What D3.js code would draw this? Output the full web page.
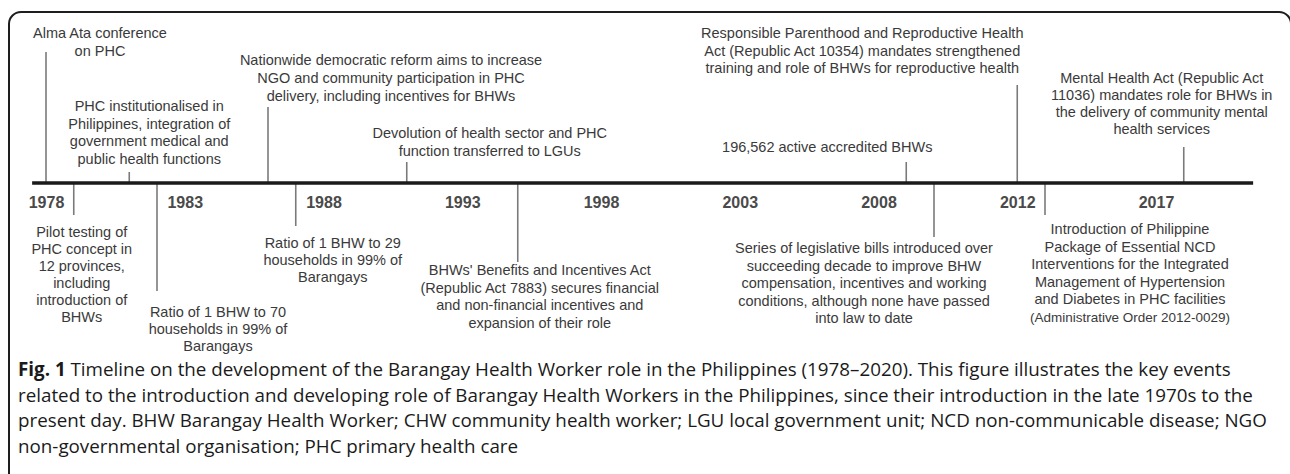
<!DOCTYPE html>
<html>
<head>
<meta charset="utf-8">
<script src="https://cdn.jsdelivr.net/npm/d3@7"></script>
<style>
  html, body { margin: 0; padding: 0; background: #fff; }
  svg { display: block; }
</style>
</head>
<body>
<svg id="chart" width="1290" height="474"></svg>
<script>
// tick labels on the timeline (evenly spaced slots)
const tickYears = [1978, 1983, 1988, 1993, 1998, 2003, 2008, 2012, 2017];
const tickLabels = ["1978", "1983", "1988", "1993", "1998", "2003", "2008", "2012", "2017"];
const axisExtent = [1977.5, 2020.5];

// events
const eventYears = [1978, 1979, 1981, 1982, 1986, 1987, 1991, 1995, 2008.8, 2009.6, 2012, 2013, 2018];
const eventSides = ["above", "below", "above", "below", "above", "below", "above", "below",
                    "above", "below", "above", "below", "above"];
const eventTexts = [
  ["Alma Ata conference", "on PHC"],
  ["Pilot testing of", "PHC concept in", "12 provinces,", "including", "introduction of", "BHWs"],
  ["PHC institutionalised in", "Philippines, integration of", "government medical and", "public health functions"],
  ["Ratio of 1 BHW to 70", "households in 99% of", "Barangays"],
  ["Nationwide democratic reform aims to increase", "NGO and community participation in PHC", "delivery, including incentives for BHWs"],
  ["Ratio of 1 BHW to 29", "households in 99% of", "Barangays"],
  ["Devolution of health sector and PHC", "function transferred to LGUs"],
  ["BHWs' Benefits and Incentives Act", "(Republic Act 7883) secures financial", "and non-financial incentives and", "expansion of their role"],
  ["196,562 active accredited BHWs"],
  ["Series of legislative bills introduced over", "succeeding decade to improve BHW", "compensation, incentives and working", "conditions, although none have passed", "into law to date"],
  ["Responsible Parenthood and Reproductive Health", "Act (Republic Act 10354) mandates strengthened", "training and role of BHWs for reproductive health"],
  ["Introduction of Philippine", "Package of Essential NCD", "Interventions for the Integrated", "Management of Hypertension", "and Diabetes in PHC facilities", "(Administrative Order 2012-0029)"],
  ["Mental Health Act (Republic Act", "11036) mandates role for BHWs in", "the delivery of community mental", "health services"]
];

// caption
const captionLead = "Fig. 1";
const captionLines = [
  " Timeline on the development of the Barangay Health Worker role in the Philippines (1978\u20132020). This figure illustrates the key events",
  "related to the introduction and developing role of Barangay Health Workers in the Philippines, since their introduction in the late 1970s to the",
  "present day. BHW Barangay Health Worker; CHW community health worker; LGU local government unit; NCD non-communicable disease; NGO",
  "non-governmental organisation; PHC primary health care"
];

// label placement: stem end y, label x offset from stem, first baseline, line step
const labelLayout = [
  {stem: 52,  dx: 54,   y0: 38,  lh: 18},
  {stem: 215, dx: 8,    y0: 237, lh: 17},
  {stem: 172, dx: 20,   y0: 111, lh: 17.5},
  {stem: 291, dx: 61,   y0: 317, lh: 17},
  {stem: 107, dx: 123,  y0: 65,  lh: 18},
  {stem: 226, dx: 37,   y0: 248, lh: 17},
  {stem: 162, dx: 83,   y0: 138, lh: 18},
  {stem: 262, dx: 22,   y0: 275, lh: 17.5},
  {stem: 162, dx: -79,  y0: 152, lh: 18},
  {stem: 237, dx: -70,  y0: 253, lh: 17.5},
  {stem: 85,  dx: -155, y0: 38,  lh: 17.5},
  {stem: 215, dx: 85,   y0: 234, lh: 17.6, narrowLast: 200},
  {stem: 147, dx: -22,  y0: 83,  lh: 17}
];

const svg = d3.select("#chart");
const width = +svg.attr("width");
const height = +svg.attr("height");
const axisY = 183;
const slotLeft = 46, slotRight = 1156;

// piecewise scale: tick labels sit in evenly spaced slots
const x = d3.scaleLinear()
  .domain(tickYears)
  .range(tickYears.map((d, i) => slotLeft + i * (slotRight - slotLeft) / (tickYears.length - 1)));

svg.append("rect")
  .attr("width", width).attr("height", height).attr("fill", "#fff");

// frame
svg.append("rect")
  .attr("x", 9).attr("y", 12)
  .attr("width", 1282).attr("height", 520)
  .attr("rx", 12)
  .attr("fill", "none")
  .attr("stroke", "#1e1e1e")
  .attr("stroke-width", 2);

const events = eventYears.map((year, i) => ({
  year, side: eventSides[i], lines: eventTexts[i], lay: labelLayout[i]
}));

// stems
svg.selectAll(".stem")
  .data(events)
  .join("line")
  .attr("class", "stem")
  .attr("x1", d => x(d.year)).attr("x2", d => x(d.year))
  .attr("y1", axisY)
  .attr("y2", d => d.lay.stem)
  .attr("stroke", "#7a7a7a")
  .attr("stroke-width", 1.6);

// main timeline line
svg.append("line")
  .attr("x1", x(axisExtent[0])).attr("x2", x(axisExtent[1]))
  .attr("y1", axisY).attr("y2", axisY)
  .attr("stroke", "#1a1a1a")
  .attr("stroke-width", 3.5);

// year labels
const axis = svg.append("g")
  .attr("transform", `translate(0,${axisY})`)
  .call(d3.axisBottom(x)
    .tickValues(tickYears)
    .tickSize(0)
    .tickPadding(14)
    .tickFormat((d, i) => tickLabels[i]));
axis.select(".domain").remove();
axis.selectAll("text")
  .attr("font-family", "Liberation Sans, Arial, sans-serif")
  .attr("font-size", 16)
  .attr("font-weight", "bold")
  .attr("fill", "#4a4a4a");

// event labels
const labels = svg.selectAll(".label")
  .data(events)
  .join("text")
  .attr("class", "label")
  .attr("text-anchor", "middle")
  .attr("font-family", "Liberation Sans, Arial, sans-serif")
  .attr("font-size", 14.5)
  .attr("fill", "#3a3a3a");

labels.each(function(d) {
  const t = d3.select(this);
  d.lines.forEach((line, j) => {
    const ts = t.append("tspan")
      .attr("x", x(d.year) + d.lay.dx)
      .attr("y", d.lay.y0 + j * d.lay.lh)
      .text(line);
    if (d.lay.narrowLast && j === d.lines.length - 1) {
      ts.attr("font-size", 13.6)
        .attr("textLength", d.lay.narrowLast)
        .attr("lengthAdjust", "spacingAndGlyphs");
    }
  });
});

// caption
const cap = svg.append("g")
  .attr("font-family", "Open Sans, Noto Sans, sans-serif")
  .attr("fill", "#1a1a1a");

const capX = 18, capY0 = 376, capStep = 25.5;
let capSize = 18;
const capTexts = captionLines.map((line, i) => {
  const t = cap.append("text")
    .attr("x", capX)
    .attr("y", capY0 + i * capStep)
    .attr("font-size", capSize);
  if (i === 0) {
    t.append("tspan").attr("font-weight", "bold").text(captionLead);
  }
  t.append("tspan").text(line);
  return t;
});

// fit caption size to the width of the second line in the picture
const measured = capTexts[1].node().getComputedTextLength();
capSize = capSize * (1254 - capX) / measured;
capTexts.forEach(t => t.attr("font-size", capSize));
</script>
</body>
</html>
